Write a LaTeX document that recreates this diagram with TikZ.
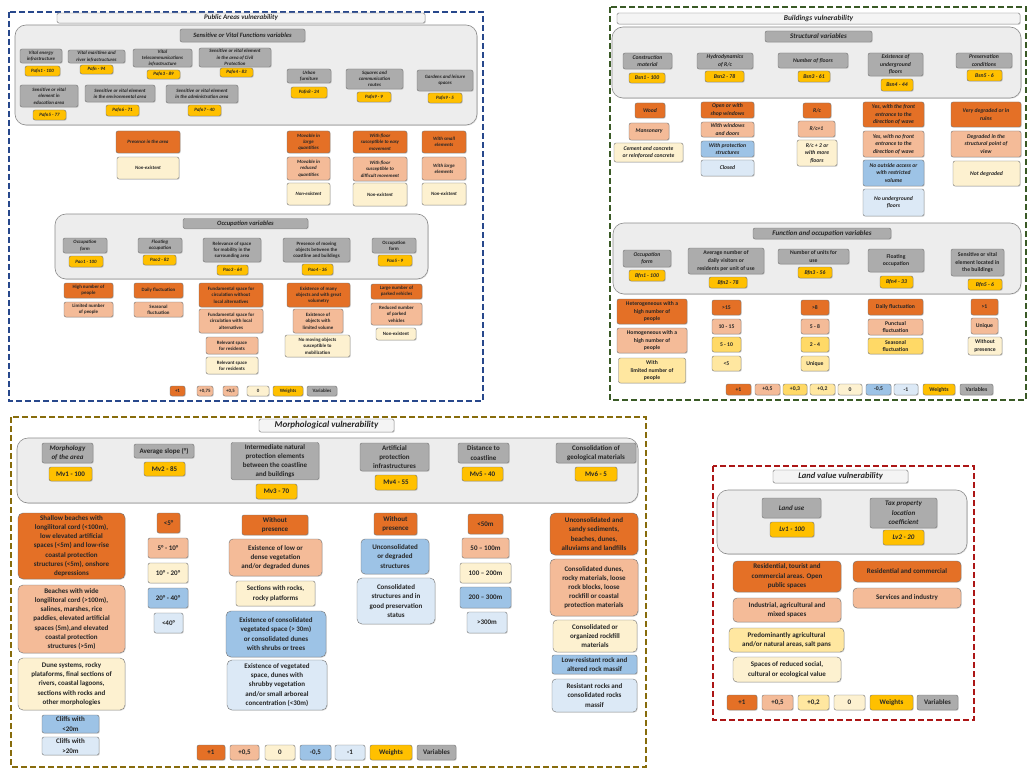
\documentclass[tikz,border=0pt]{standalone}
\usepackage{fontspec}
\setmainfont{Carlito}
\usetikzlibrary{shadows}

\definecolor{cOra}{RGB}{228,112,38}
\definecolor{cSal}{RGB}{244,187,152}
\definecolor{cYeA}{RGB}{255,217,102}
\definecolor{cYeB}{RGB}{255,231,160}
\definecolor{cCre}{RGB}{253,241,208}
\definecolor{cBlA}{RGB}{157,195,230}
\definecolor{cBlB}{RGB}{220,233,246}
\definecolor{cWgt}{RGB}{255,192,0}
\definecolor{cGry}{RGB}{172,172,172}
\definecolor{cPnl}{RGB}{237,237,237}
\definecolor{cTtl}{RGB}{244,244,244}
\definecolor{cFrBlue}{RGB}{40,72,140}
\definecolor{cFrGreen}{RGB}{58,90,38}
\definecolor{cFrOlive}{RGB}{135,108,12}
\definecolor{cFrRed}{RGB}{172,22,22}

\tikzset{
  bx/.style={draw=black!55, line width=0.4pt, rounded corners=2pt, align=center,
    inner sep=0.5pt, text=black!85,
    drop shadow={shadow xshift=0.8pt, shadow yshift=-0.8pt, opacity=0.25}},
  sz/.style 2 args={minimum width=#1pt, minimum height=#2pt},
  ora/.style={fill=cOra}, sal/.style={fill=cSal}, yeA/.style={fill=cYeA},
  yeB/.style={fill=cYeB}, cre/.style={fill=cCre}, blA/.style={fill=cBlA},
  blB/.style={fill=cBlB}, wgt/.style={fill=cWgt}, gry/.style={fill=cGry},
  pnl/.style={draw=black!45, line width=0.6pt, fill=cPnl, rounded corners=11pt,
    drop shadow={shadow xshift=0.8pt, shadow yshift=-0.8pt, opacity=0.2}},
  ttl/.style={bx, fill=cTtl, rounded corners=1.5pt},
  frm/.style={dash pattern=on 6pt off 3pt, line width=1.6pt},
  fpa/.style={font=\fontsize{4.9}{6.3}\selectfont\bfseries\itshape},
  fpb/.style={font=\fontsize{4.9}{6.3}\selectfont\bfseries},
  fbs/.style={font=\fontsize{5.7}{7.4}\selectfont\bfseries\itshape},
  fbf/.style={font=\fontsize{5.7}{7.6}\selectfont\bfseries},
  fmo/.style={font=\fontsize{7}{9.2}\selectfont\bfseries},
  fmi/.style={font=\fontsize{7}{9.2}\selectfont\bfseries\itshape},
  flv/.style={font=\fontsize{7}{9.5}\selectfont\bfseries},
  fli/.style={font=\fontsize{7}{9.5}\selectfont\bfseries\itshape},
}

\begin{document}
\begin{tikzpicture}[x=1pt, y=-1pt]
  \useasboundingbox (0,0) rectangle (1027,770);
  \fill[white] (0,0) rectangle (1027,770);

  % public areas
  \draw[frm, cFrBlue] (9,12) rectangle (483,401);
  \node[ttl, sz={368}{10}, font=\fontsize{7}{8}\selectfont\bfseries\itshape] (pTtl) at (241,18) {Public Areas vulnerability};
  \node[pnl, sz={462}{100}] (pPnl1) at (246,75) {};
  \node[bx, gry, sz={125}{13}, font=\fontsize{6.5}{7.5}\selectfont\bfseries\itshape] (pHd1) at (242.5,35.5) {Sensitive or Vital Functions  variables};

  \node[bx, gry, fpa, sz={42}{14}] (pv1) at (41,56) {Vital energy\\infrastructure};
  \node[bx, wgt, fpa, sz={35}{10}] (pw1) at (42.5,71) {Pafn1 - 100};
  \node[bx, gry, fpa, sz={57}{13}] (pv2) at (96.5,56.5) {Vital maritime and\\river infrastructures};
  \node[bx, wgt, fpa, sz={33}{9}] (pw2) at (96.5,69.5) {Pafn - 94};
  \node[bx, gry, fpa, sz={59}{18}] (pv3) at (162.5,58) {Vital\\telecommunications\\infrastructure};
  \node[bx, wgt, fpa, sz={33}{9}] (pw3) at (163.5,74.5) {Pafn3 - 89};
  \node[bx, gry, fpa, sz={72}{19}] (pv4) at (235,57.5) {Sensitive or vital element\\in the area of Civil\\Protection};
  \node[bx, wgt, fpa, sz={33}{9}] (pw4) at (236.5,72.5) {Pafn4 - 83};
  \node[bx, gry, fpa, sz={44}{14}] (pv8) at (309,76) {Urban\\furniture};
  \node[bx, wgt, fpa, sz={36}{11}] (pw8) at (309,92.5) {Pafn8 - 24};
  \node[bx, gry, fpa, sz={57}{20}] (pv9) at (374.5,79) {Squares and\\communication\\routes};
  \node[bx, wgt, fpa, sz={34}{10}] (pw9) at (374,97) {Pafn9 - 9};
  \node[bx, gry, fpa, sz={56}{21}] (pv10) at (445,80.5) {Gardens and leisure\\spaces};
  \node[bx, wgt, fpa, sz={34}{10}] (pw10) at (445,98) {Pafn9 - 5};
  \node[bx, gry, fpa, sz={58}{22}] (pv5) at (49,96) {Sensitive or vital\\element in\\education area};
  \node[bx, wgt, fpa, sz={33}{10}] (pw5) at (49.5,115) {Pafn5 - 77};
  \node[bx, gry, fpa, sz={70}{17}] (pv6) at (120,93.5) {Sensitive or vital element\\in the environmental area};
  \node[bx, wgt, fpa, sz={33}{11}] (pw6) at (122.5,110.5) {Pafn6 - 71};
  \node[bx, gry, fpa, sz={72}{18}] (pv7) at (202,94) {Sensitive or vital element\\in the administration area};
  \node[bx, wgt, fpa, sz={33}{11}] (pw7) at (204.5,110.5) {Pafn7 - 40};

  \node[bx, ora, fpa, sz={64}{22}] (pc1a) at (148,142) {Presence in the area};
  \node[bx, cre, fpa, sz={62}{22}] (pc1b) at (148,168) {Non-existent};
  \node[bx, ora, fpa, sz={43}{22}] (pc2a) at (308.5,142) {Movable in\\large\\quantities};
  \node[bx, sal, fpa, sz={43}{23}] (pc2b) at (308.5,168.5) {Movable in\\reduced\\quantities};
  \node[bx, cre, fpa, sz={43}{22}] (pc2c) at (308.5,194) {Non-existent};
  \node[bx, ora, fpa, sz={54}{22}] (pc3a) at (380,142) {With floor\\susceptible to easy\\movement};
  \node[bx, sal, fpa, sz={54}{24}] (pc3b) at (380,169) {With floor\\susceptible to\\difficult movement};
  \node[bx, cre, fpa, sz={54}{23}] (pc3c) at (380,194.5) {Non-existent};
  \node[bx, ora, fpa, sz={44}{22}] (pc4a) at (444,142) {With small\\elements};
  \node[bx, sal, fpa, sz={44}{23}] (pc4b) at (444,168.5) {With large\\elements};
  \node[bx, cre, fpa, sz={44}{22}] (pc4c) at (444,194) {Non-existent};

  \node[pnl, sz={373}{65}] (pPnl2) at (241.5,246.5) {};
  \node[bx, gry, sz={125}{10}, font=\fontsize{6.5}{7.5}\selectfont\bfseries\itshape] (pHd2) at (245.5,223.5) {Occupation variables};
  \node[bx, gry, fpa, sz={44}{15}] (ov1) at (85,245.5) {Occupation\\form};
  \node[bx, wgt, fpa, sz={34}{11}] (ow1) at (86,261.5) {Pao1 - 100};
  \node[bx, gry, fpa, sz={44}{15}] (ov2) at (160,245.5) {Floating\\occupation};
  \node[bx, wgt, fpa, sz={33}{10}] (ow2) at (159.5,260) {Pao2 - 82};
  \node[bx, gry, fpb, sz={58}{24}] (ov3) at (232,250) {Relevance of space\\for mobility in the\\surrounding area};
  \node[bx, wgt, fpa, sz={31}{10}] (ow3) at (232.5,270) {Pao3 - 64};
  \node[bx, gry, fpb, sz={67}{24}] (ov4) at (316.5,250) {Presence of moving\\objects between the\\coastline and buildings};
  \node[bx, wgt, fpa, sz={31}{11}] (ow4) at (317.5,269.5) {Pao4 - 36};
  \node[bx, gry, fpb, sz={44}{15}] (ov5) at (394,245.5) {Occupation\\form};
  \node[bx, wgt, fpa, sz={34}{11}] (ow5) at (395,260.5) {Pao5 - 9};

  \node[bx, ora, fpb, sz={49}{15}] (po1a) at (88.5,290.5) {High number of\\people};
  \node[bx, sal, fpb, sz={49}{15}] (po1b) at (88.5,309.5) {Limited number\\of people};
  \node[bx, ora, fpb, sz={49}{15}] (po2a) at (158.5,290.5) {Daily fluctuation};
  \node[bx, sal, fpb, sz={49}{15}] (po2b) at (158.5,309.5) {Seasonal\\fluctuation};
  \node[bx, ora, fpb, sz={64}{24}] (po3a) at (231,295) {Fundamental space for\\circulation without\\local alternatives};
  \node[bx, sal, fpb, sz={64}{24}] (po3b) at (231,321) {Fundamental space for\\circulation with local\\alternatives};
  \node[bx, sal, fpb, sz={52}{17}] (po3c) at (232,345.5) {Relevant space\\for residents};
  \node[bx, cre, fpb, sz={52}{17}] (po3d) at (232,365.5) {Relevant space\\for residents};
  \node[bx, ora, fpb, sz={63}{24}] (po4a) at (318.5,295) {Existence of many\\objects and with great\\volumetry};
  \node[bx, sal, fpb, sz={50}{24}] (po4b) at (318,321) {Existence of\\objects with\\limited volume};
  \node[bx, cre, fpb, sz={65}{22}] (po4c) at (317.5,346) {No moving objects\\susceptible to\\mobilization};
  \node[bx, ora, fpb, sz={51}{15}] (po5a) at (396.5,291.5) {Large number of\\parked vehicles};
  \node[bx, sal, fpb, sz={51}{22}] (po5b) at (396.5,314) {Reduced number\\of parked\\vehicles};
  \node[bx, cre, fpb, sz={40}{12}] (po5c) at (396,334) {Non-existent};

  \node[bx, ora, fpb, sz={15}{10}] (pl1) at (177.5,391) {+1};
  \node[bx, sal, fpb, sz={16}{10}] (pl2) at (205,391) {+0,75};
  \node[bx, sal, fpb, sz={15}{10}] (pl3) at (230.5,391) {+0,5};
  \node[bx, cre, fpb, sz={22}{10}] (pl4) at (258,391) {0};
  \node[bx, wgt, fpb, sz={30}{10}] (pl5) at (288,391) {Weights};
  \node[bx, gry, fpb, sz={30}{10}] (pl6) at (322,391) {Variables};

  % buildings
  \draw[frm, cFrGreen] (610,7) rectangle (1026,400);
  \node[ttl, sz={403}{11}, font=\fontsize{7.5}{8.5}\selectfont\bfseries\itshape] (bTtl) at (818.5,18.5) {Buildings vulnerability};
  \node[pnl, sz={409}{71}] (bPnl1) at (816.5,62.5) {};
  \node[bx, gry, sz={107}{11}, font=\fontsize{7}{8}\selectfont\bfseries\itshape] (bHd1) at (818.5,36.5) {Structural variables};
  \node[bx, gry, fbs, sz={49}{16}] (bv1) at (647.5,61) {Construction\\material};
  \node[bx, wgt, fbs, sz={36}{10}] (bw1) at (647,78) {Bsn1 - 100};
  \node[bx, gry, fbs, sz={56}{16}] (bv2) at (725,61) {Hydrodynamics\\of R/c};
  \node[bx, wgt, fbs, sz={39}{11}] (bw2) at (724.5,76.5) {Bsn2 - 78};
  \node[bx, gry, fbs, sz={70}{15}] (bv3) at (813,60.5) {Number of floors};
  \node[bx, wgt, fbs, sz={32}{11}] (bw3) at (814,76.5) {Bsn3 - 61};
  \node[bx, gry, fbs, sz={55}{23}] (bv4) at (895.5,64.5) {Existence of\\underground\\floors};
  \node[bx, wgt, fbs, sz={32}{12}] (bw4) at (897,85) {Bsn4 - 44};
  \node[bx, gry, fbs, sz={56}{15}] (bv5) at (984,60.5) {Preservation\\conditions};
  \node[bx, wgt, fbs, sz={35}{11}] (bw5) at (984.5,75.5) {Bsn5 - 6};

  \node[bx, ora, fbs, sz={30}{15}] (bs1a) at (650,110.5) {Wood};
  \node[bx, sal, fbs, sz={40}{17}] (bs1b) at (649,131.5) {Mansonary};
  \node[bx, cre, fbs, sz={69}{19}] (bs1c) at (648.5,152.5) {Cement and concrete\\or reinforced concrete};
  \node[bx, ora, fbs, sz={53}{16}] (bs2a) at (727.5,110) {Open or with\\shop windows};
  \node[bx, sal, fbs, sz={53}{15}] (bs2b) at (727.5,129.5) {With windows\\and doors};
  \node[bx, blA, fbs, sz={53}{16}] (bs2c) at (727.5,149) {With protection\\structures};
  \node[bx, blB, fbs, sz={53}{16}] (bs2d) at (727.5,168) {Closed};
  \node[bx, ora, fbs, sz={28}{15}] (bs3a) at (817,110.5) {R/c};
  \node[bx, sal, fbs, sz={37}{16}] (bs3b) at (816.5,129) {R/c+1};
  \node[bx, cre, fbs, sz={40}{26}] (bs3c) at (817,153) {R/c + 2 or\\with more\\floors};
  \node[bx, ora, fbs, sz={61}{25}] (bs4a) at (893.5,114.5) {Yes, with the front\\entrance to the\\direction of wave};
  \node[bx, sal, fbs, sz={61}{26}] (bs4b) at (893.5,144) {Yes, with no front\\entrance to the\\direction of wave};
  \node[bx, blA, fbs, sz={61}{26}] (bs4c) at (893.5,173) {No outside access or\\with restricted\\volume};
  \node[bx, blB, fbs, sz={61}{27}] (bs4d) at (893.5,202.5) {No underground\\floors};
  \node[bx, ora, fbs, sz={70}{25}] (bs5a) at (986,114.5) {Very degraded or in\\ruins};
  \node[bx, sal, fbs, sz={70}{26}] (bs5b) at (986,144) {Degraded in the\\structural point of\\view};
  \node[bx, cre, fbs, sz={67}{25}] (bs5c) at (986.5,173.5) {Not degraded};

  \node[pnl, sz={408}{71}] (bPnl2) at (817,258.5) {};
  \node[bx, gry, sz={138}{11}, font=\fontsize{7}{8}\selectfont\bfseries\itshape] (bHd2) at (822,233.5) {Function and occupation variables};
  \node[bx, gry, fbs, sz={48}{17}] (fv1) at (647,258.5) {Occupation\\form};
  \node[bx, wgt, fbs, sz={36}{11}] (fw1) at (647,275.5) {Bfn1 - 100};
  \node[bx, gry, fbf, sz={76}{26}] (fv2) at (726,261) {Average number of\\daily visitors or\\residents per unit of use};
  \node[bx, wgt, fbs, sz={38}{11}] (fw2) at (728,282.5) {Bfn2 - 78};
  \node[bx, gry, fbf, sz={71}{15}] (fv3) at (813.5,256.5) {Number of units for\\use};
  \node[bx, wgt, fbs, sz={34}{11}] (fw3) at (815,272.5) {Bfn3 - 56};
  \node[bx, gry, fbf, sz={56}{23}] (fv4) at (896,260.5) {Floating\\occupation};
  \node[bx, wgt, fbs, sz={33}{12}] (fw4) at (896.5,282) {Bfn4 - 33};
  \node[bx, gry, fbf, sz={53}{27}] (fv5) at (977.5,262.5) {Sensitive or vital\\element located in\\the buildings};
  \node[bx, wgt, fbs, sz={34}{11}] (fw5) at (985,284.5) {Bfn5 - 6};

  \node[bx, ora, fbf, sz={70}{25}] (bf1a) at (652,311.5) {Heterogeneous with a\\high number of\\people};
  \node[bx, sal, fbf, sz={70}{25}] (bf1b) at (652,340.5) {Homogeneous with a\\high number of\\people};
  \node[bx, yeB, fbf, sz={67}{25}] (bf1c) at (652,370.5) {With\\limited number of\\people};
  \node[bx, ora, fbf, sz={29}{15}] (bf2a) at (726.5,307.5) {>15};
  \node[bx, sal, fbf, sz={29}{15}] (bf2b) at (726.5,326.5) {10 - 15};
  \node[bx, yeA, fbf, sz={29}{15}] (bf2c) at (726.5,344.5) {5 - 10};
  \node[bx, yeB, fbf, sz={29}{15}] (bf2d) at (726.5,363.5) {<5};
  \node[bx, ora, fbf, sz={28}{15}] (bf3a) at (815,307.5) {>8};
  \node[bx, sal, fbf, sz={28}{15}] (bf3b) at (815,326.5) {5 - 8};
  \node[bx, yeA, fbf, sz={28}{15}] (bf3c) at (815,344.5) {2 - 4};
  \node[bx, yeB, fbf, sz={28}{15}] (bf3d) at (815,363.5) {Unique};
  \node[bx, ora, fbf, sz={55}{16}] (bf4a) at (895.5,307) {Daily fluctuation};
  \node[bx, sal, fbf, sz={55}{16}] (bf4b) at (895.5,327) {Punctual\\fluctuation};
  \node[bx, yeA, fbf, sz={55}{16}] (bf4c) at (895.5,346) {Seasonal\\fluctuation};
  \node[bx, ora, fbf, sz={27}{16}] (bf5a) at (984.5,307) {>1};
  \node[bx, sal, fbf, sz={27}{16}] (bf5b) at (984.5,326) {Unique};
  \node[bx, cre, fbf, sz={34}{18}] (bf5c) at (985,346) {Without\\presence};

  \node[bx, ora, fbf, sz={25}{11}] (bl1) at (738.5,389.5) {+1};
  \node[bx, sal, fbf, sz={25}{11}] (bl2) at (767.5,389.5) {+0,5};
  \node[bx, yeA, fbf, sz={24}{11}] (bl3) at (795,389.5) {+0,3};
  \node[bx, yeB, fbf, sz={25}{11}] (bl4) at (822.5,389.5) {+0,2};
  \node[bx, cre, fbf, sz={24}{11}] (bl5) at (850,389.5) {0};
  \node[bx, blA, fbf, sz={25}{11}] (bl6) at (878.5,389.5) {-0,5};
  \node[bx, blB, fbf, sz={24}{11}] (bl7) at (906,389.5) {-1};
  \node[bx, wgt, fbf, sz={32}{11}] (bl8) at (939,389.5) {Weights};
  \node[bx, gry, fbf, sz={33}{11}] (bl9) at (976.5,389.5) {Variables};

  % morphological
  \draw[frm, cFrOlive] (11,417) rectangle (646,767);
  \node[ttl, sz={135}{13}, font=\fontsize{9}{10}\selectfont\bfseries\itshape] (mTtl) at (326.5,425.5) {Morphological vulnerability};
  \node[pnl, sz={621}{65}] (mPnl) at (327.5,470.5) {};
  \node[bx, gry, fmi, sz={51}{20}] (mv1) at (67.5,453) {Morphology\\of the area};
  \node[bx, wgt, fmo, sz={43}{14}] (mw1) at (70.5,474) {Mv1 - 100};
  \node[bx, gry, fmo, sz={60}{14}] (mv2) at (164,451) {Average slope (°)};
  \node[bx, wgt, fmo, sz={41}{14}] (mw2) at (164.5,469) {Mv2 - 85};
  \node[bx, gry, fmo, sz={88}{37}] (mv3) at (275,461) {Intermediate natural\\protection elements\\between the coastline\\and buildings};
  \node[bx, wgt, fmo, sz={41}{15}] (mw3) at (276.5,491.5) {Mv3 - 70};
  \node[bx, gry, fmo, sz={69}{28}] (mv4) at (394.5,457) {Artificial\\protection\\infrastructures};
  \node[bx, wgt, fmo, sz={42}{15}] (mw4) at (396,482.5) {Mv4 - 55};
  \node[bx, gry, fmo, sz={51}{20}] (mv5) at (483.5,453) {Distance to\\coastline};
  \node[bx, wgt, fmo, sz={41}{14}] (mw5) at (482.5,474) {Mv5 - 40};
  \node[bx, gry, fmo, sz={80}{20}] (mv6) at (596,453) {Consolidation of\\geological materials};
  \node[bx, wgt, fmo, sz={42}{14}] (mw6) at (596,474) {Mv6 - 5};

  \node[bx, ora, fmo, sz={107}{66}, rounded corners=5pt] (mm1a) at (71.5,546) {Shallow beaches with\\longilitoral cord (<100m),\\low elevated artificial\\spaces (<5m) and low-rise\\coastal protection\\structures (<5m), onshore\\depressions};
  \node[bx, sal, fmo, sz={107}{68}, rounded corners=5pt] (mm1b) at (71.5,619) {Beaches with wide\\longilitoral cord (>100m),\\salines, marshes, rice\\paddies, elevated artificial\\spaces (5m),and elevated\\coastal protection\\structures (>5m)};
  \node[bx, cre, fmo, sz={107}{52}, rounded corners=5pt] (mm1c) at (71.5,684) {Dune systems, rocky\\plataforms, final sections of\\rivers, coastal lagoons,\\sections with rocks and\\other morphologies};
  \node[bx, blA, fmo, sz={57}{18}] (mm1d) at (70.5,724) {Cliffs with\\<20m};
  \node[bx, blB, fmo, sz={57}{18}] (mm1e) at (70.5,746) {Cliffs with\\>20m};
  \node[bx, ora, fmo, sz={23}{20}] (mm2a) at (168.5,523) {<5°};
  \node[bx, sal, fmo, sz={40}{20}] (mm2b) at (168,548) {5° - 10°};
  \node[bx, cre, fmo, sz={40}{20}] (mm2c) at (168,573) {10° - 20°};
  \node[bx, blA, fmo, sz={40}{20}] (mm2d) at (168,598) {20° - 40°};
  \node[bx, blB, fmo, sz={29}{20}] (mm2e) at (168.5,623) {<40°};
  \node[bx, ora, fmo, sz={66}{20}] (mm3a) at (275,525) {Without\\presence};
  \node[bx, sal, fmo, sz={93}{37}, rounded corners=4pt] (mm3b) at (275.5,557.5) {Existence of low or\\dense vegetation\\and/or degraded dunes};
  \node[bx, cre, fmo, sz={79}{25}] (mm3c) at (275.5,593.5) {Sections with rocks,\\rocky platforms};
  \node[bx, blA, fmo, sz={100}{46}, rounded corners=5pt] (mm3d) at (276,634) {Existence of consolidated\\vegetated space (> 30m)\\or consolidated dunes\\with shrubs or trees};
  \node[bx, blB, fmo, sz={100}{50}, rounded corners=5pt] (mm3e) at (277,685) {Existence of vegetated\\space, dunes with\\shrubby vegetation\\and/or small arboreal\\concentration (<30m)};
  \node[bx, ora, fmo, sz={43}{22}] (mm4a) at (395.5,524) {Without\\presence};
  \node[bx, blA, fmo, sz={68}{35}, rounded corners=4pt] (mm4b) at (395,556.5) {Unconsolidated\\or degraded\\structures};
  \node[bx, blB, fmo, sz={78}{46}, rounded corners=5pt] (mm4c) at (396,601) {Consolidated\\structures and in\\good preservation\\status};
  \node[bx, ora, fmo, sz={35}{20}] (mm5a) at (485.5,524) {<50m};
  \node[bx, sal, fmo, sz={47}{20}] (mm5b) at (485.5,548) {50 – 100m};
  \node[bx, cre, fmo, sz={51}{20}] (mm5c) at (485.5,573) {100 – 200m};
  \node[bx, blA, fmo, sz={51}{21}] (mm5d) at (485.5,597.5) {200 – 300m};
  \node[bx, blB, fmo, sz={40}{21}] (mm5e) at (487,622.5) {>300m};
  \node[bx, ora, fmo, sz={88}{42}, rounded corners=5pt] (mm6a) at (594,534) {Unconsolidated and\\sandy sediments,\\beaches, dunes,\\alluviams and landfills};
  \node[bx, sal, fmo, sz={88}{57}, rounded corners=5pt] (mm6b) at (594,587.5) {Consolidated dunes,\\rocky materials, loose\\rock blocks, loose\\rockfill or coastal\\protection materials};
  \node[bx, cre, fmo, sz={84}{32}, rounded corners=4pt] (mm6c) at (595,636) {Consolidated or\\organized rockfill\\materials};
  \node[bx, blA, fmo, sz={85}{19}] (mm6d) at (594.5,664.5) {Low-resistant rock and\\altered rock massif};
  \node[bx, blB, fmo, sz={85}{33}, rounded corners=4pt] (mm6e) at (594.5,695.5) {Resistant rocks and\\consolidated rocks\\massif};

  \node[bx, ora, fmo, sz={28}{15}] (ml1) at (211,752.5) {+1};
  \node[bx, sal, fmo, sz={29}{15}] (ml2) at (244.5,752.5) {+0,5};
  \node[bx, cre, fmo, sz={30}{15}] (ml3) at (280,752.5) {0};
  \node[bx, blA, fmo, sz={31}{15}] (ml4) at (315.5,752.5) {-0,5};
  \node[bx, blB, fmo, sz={30}{15}] (ml5) at (350,752.5) {-1};
  \node[bx, wgt, fmo, sz={42}{15}] (ml6) at (391,752.5) {Weights};
  \node[bx, gry, fmo, sz={39}{15}] (ml7) at (436.5,752.5) {Variables};

  % land value
  \draw[frm, cFrRed] (713,466) rectangle (974,720);
  \node[ttl, sz={135}{13}, font=\fontsize{8.5}{9.5}\selectfont\bfseries\itshape] (lTtl) at (840.5,476.5) {Land value vulnerability};
  \node[pnl, sz={250}{64}] (lPnl) at (842,522) {};
  \node[bx, gry, fli, sz={59}{20}] (lv1) at (791.5,508) {Land use};
  \node[bx, wgt, fli, sz={44}{15}] (lw1) at (792,529.5) {Lv1 - 100};
  \node[bx, gry, fli, sz={67}{30}] (lv2) at (903.5,513) {Tax property\\location\\coefficient};
  \node[bx, wgt, fli, sz={41}{15}] (lw2) at (903.5,537.5) {Lv2 - 20};

  \node[bx, ora, flv, sz={108}{31}, rounded corners=4pt] (lu1a) at (787,576.5) {Residential, tourist and\\commercial areas. Open\\public spaces};
  \node[bx, sal, flv, sz={108}{24}, rounded corners=4pt] (lu1b) at (787,610) {Industrial, agricultural and\\mixed spaces};
  \node[bx, yeB, flv, sz={115}{24}, rounded corners=4pt] (lu1c) at (786.5,640) {Predominantly agricultural\\and/or natural areas, salt pans};
  \node[bx, cre, flv, sz={108}{25}, rounded corners=4pt] (lu1d) at (787,669.5) {Spaces of reduced social,\\cultural or ecological value};
  \node[bx, ora, flv, sz={108}{21}, rounded corners=4pt] (lu2a) at (907,571.5) {Residential and commercial};
  \node[bx, sal, flv, sz={108}{20}, rounded corners=4pt] (lu2b) at (907,598) {Services and industry};

  \node[bx, ora, flv, sz={30}{15}] (ll1) at (742,702.5) {+1};
  \node[bx, sal, flv, sz={31}{15}] (ll2) at (777.5,702.5) {+0,5};
  \node[bx, yeB, flv, sz={31}{15}] (ll3) at (813.5,702.5) {+0,2};
  \node[bx, cre, flv, sz={31}{15}] (ll4) at (849.5,702.5) {0};
  \node[bx, wgt, flv, sz={43}{15}] (ll5) at (891.5,702.5) {Weights};
  \node[bx, gry, flv, sz={41}{15}] (ll6) at (937.5,702.5) {Variables};
\end{tikzpicture}
\end{document}
